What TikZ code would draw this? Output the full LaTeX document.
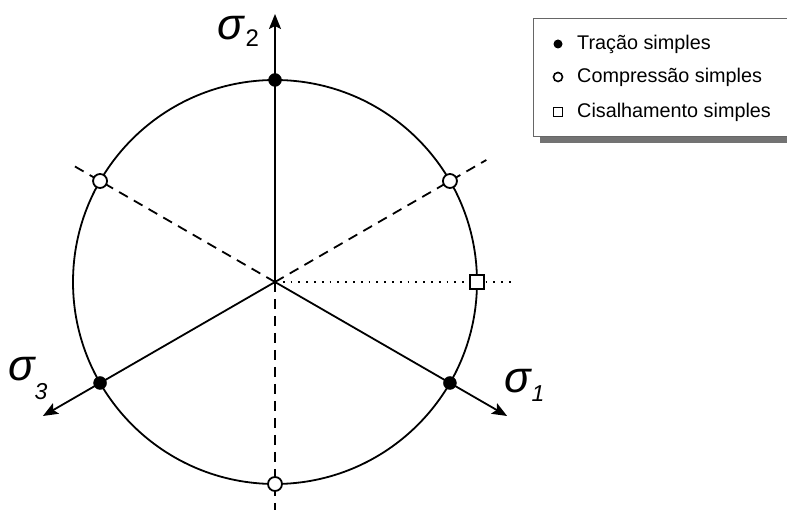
\documentclass[tikz,border=0pt]{standalone}
\usepackage{fontspec}
\setmainfont{Liberation Sans}
\usetikzlibrary{arrows.meta,calc}
\tikzset{
  ax/.style={line width=1.8pt,-{Stealth[length=15pt,width=12pt,inset=3pt]}},
  dsh/.style={line width=1.8pt,dash pattern=on 10pt off 7pt},
  dtt/.style={line width=1.8pt,dash pattern=on 1.8pt off 6pt},
  fdot/.style={circle,fill=black,draw=black,inner sep=0pt,minimum size=13pt},
  odot/.style={circle,fill=white,draw=black,line width=1.8pt,inner sep=0pt,minimum size=14pt},
  sqm/.style={rectangle,fill=white,draw=black,line width=1.8pt,inner sep=0pt,minimum size=14pt},
  lfdot/.style={circle,fill=black,inner sep=0pt,minimum size=9pt},
  lodot/.style={circle,draw=black,line width=1.6pt,inner sep=0pt,minimum size=9pt},
  lsq/.style={rectangle,draw=black,line width=1.6pt,inner sep=0pt,minimum size=9pt},
  ltxt/.style={anchor=west,inner sep=0pt,font=\fontsize{19.8}{22}\selectfont},
  sig/.style={inner sep=0pt,font=\fontsize{44}{46}\selectfont\itshape},
}
\newcommand{\subsz}{\fontsize{23}{25}\selectfont}
\begin{document}
\begin{tikzpicture}[x=1pt,y=1pt]
\useasboundingbox (0,0) rectangle (787,510);
\fill[white] (0,0) rectangle (787,510);
\coordinate (C) at (275,228);
% dashed and dotted lines
\coordinate (d150) at ($(C)+(150:232)$);
\coordinate (d30) at ($(C)+(30:244)$);
\coordinate (d270) at ($(C)+(270:228)$);
\coordinate (dot0) at ($(C)+(0:236)$);
\draw[dsh] (C) -- (d150);
\draw[dsh] (C) -- (d30);
\draw[dsh] (C) -- (d270);
\draw[dtt] (C) -- (dot0);
% circle
\draw[line width=1.8pt] (C) circle[radius=202];
% axes
\coordinate (a1) at ($(C)+(-30:268)$);
\coordinate (a2) at ($(C)+(90:268)$);
\coordinate (a3) at ($(C)+(210:268)$);
\draw[ax] (C) -- (a1);
\draw[ax] (C) -- (a2);
\draw[ax] (C) -- (a3);
% markers
\node[fdot] (t1) at ($(C)+(90:202)$) {};
\node[fdot] (t2) at ($(C)+(-30:202)$) {};
\node[fdot] (t3) at ($(C)+(210:202)$) {};
\node[odot] (c1) at ($(C)+(30:202)$) {};
\node[odot] (c2) at ($(C)+(150:202)$) {};
\node[odot] (c3) at ($(C)+(270:202)$) {};
\node[sqm] (s1) at ($(C)+(0:202)$) {};
% labels
\node[sig,anchor=base west] (l2) at (217,470) {σ\kern2pt\raisebox{-7pt}{\fontsize{24}{26}\selectfont\upshape 2}};
\node[sig,anchor=base west] (l1) at (504,117) {σ\kern1pt\raisebox{-9pt}{\subsz 1}};
\node[sig,anchor=base west] (l3) at (8,129) {σ\kern0pt\raisebox{-19pt}{\subsz 3}};
% legend
\fill[black!55] (540,367) rectangle (800,486);
\draw[black!60,line width=0.8pt,fill=white] (533,374) rectangle (800,492);
\node[lfdot] (m1) at (558,466) {};
\node[lodot] (m2) at (558,433) {};
\node[lsq] (m3) at (558,398) {};
\node[ltxt] (x1) at (577,466) {Tração simples};
\node[ltxt] (x2) at (577,433) {Compressão simples};
\node[ltxt] (x3) at (577,398) {Cisalhamento simples};
\end{tikzpicture}
\end{document}
